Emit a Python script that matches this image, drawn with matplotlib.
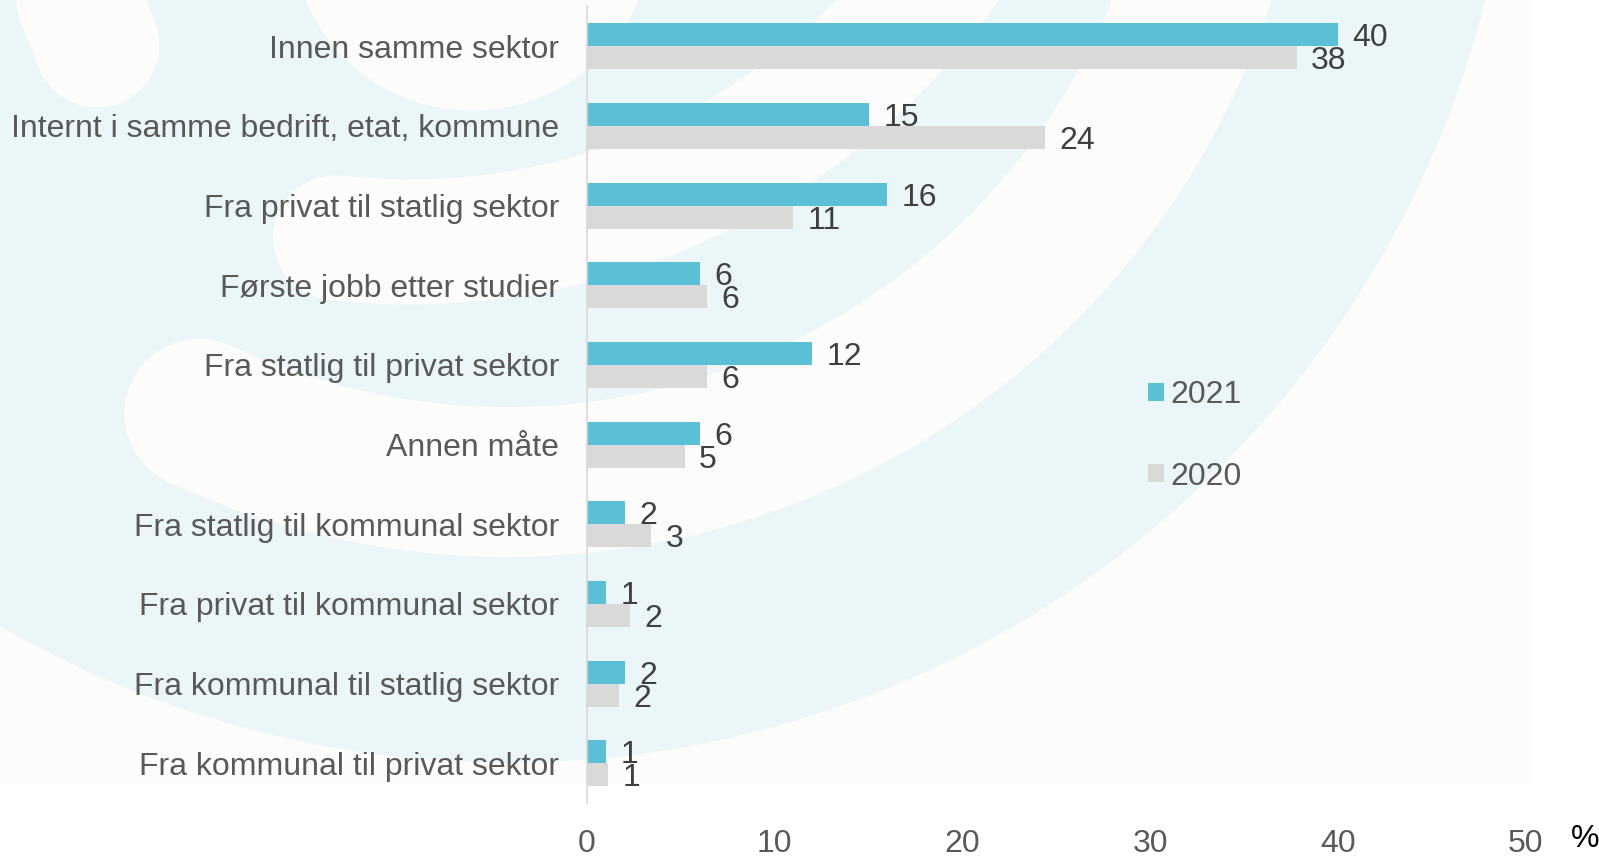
import matplotlib
matplotlib.use('Agg')
import matplotlib.pyplot as plt
from matplotlib.patches import Circle, Arc, Rectangle
import numpy as np

plt.rcParams['font.family'] = ['Liberation Sans', 'DejaVu Sans']

# data
categories = ['Innen samme sektor',
              'Internt i samme bedrift, etat, kommune',
              'Fra privat til statlig sektor',
              'Første jobb etter studier',
              'Fra statlig til privat sektor',
              'Annen måte',
              'Fra statlig til kommunal sektor',
              'Fra privat til kommunal sektor',
              'Fra kommunal til statlig sektor',
              'Fra kommunal til privat sektor']
v2021 = [40, 15, 16, 6, 12, 6, 2, 1, 2, 1]
v2020 = [37.8, 24.4, 11.0, 6.4, 6.4, 5.2, 3.4, 2.3, 1.7, 1.1]
series_names = ['2021', '2020']
x_ticks = [0, 10, 20, 30, 40, 50]

c2021 = '#5BC0D6'
c2020 = '#D9D9D9'
fs = 23

W, H = 1599, 857
fig = plt.figure(figsize=(W / 100, H / 100), dpi=100)

# faint logo in the background
bg = fig.add_axes([0, 1 - 784 / H, 1532 / W, 784 / H])
bg.set_xlim(0, 1532)
bg.set_ylim(784, 0)
bg.set_axis_off()
wm = '#EAF6F8'
paper = '#FCFCFC'
bg.add_patch(Rectangle((0, 0), 1532, 784, color=paper, zorder=0))
bg.add_patch(Circle((507, -246), 1008, color=wm, zorder=1))
bg.add_patch(Circle((472, -70), 180, color=paper, zorder=2))
bg.plot([47, 97], [-80, 45], color=paper, lw=125 * 0.72, solid_capstyle='round', zorder=2)
bg.add_patch(Arc((410, -417), 2 * 659, 2 * 659, theta1=-15, theta2=96.5,
                 color=paper, lw=125 * 0.72, capstyle='round', zorder=2))
bg.add_patch(Arc((507, -246), 2 * 728, 2 * 728, theta1=-20, theta2=115,
                 color=paper, lw=150 * 0.72, capstyle='round', zorder=2))

# main chart
ax = fig.add_axes([587 / W, 1 - 803 / H, (1525.6 - 587) / W, (803 - 6.5) / H])
ax.patch.set_alpha(0)

y = np.arange(len(categories))
h = 0.289
b1 = ax.barh(y - h / 2, v2021, height=h, color=c2021, label=series_names[0])
b2 = ax.barh(y + h / 2, v2020, height=h, color=c2020, label=series_names[1])

for bars in (b1, b2):
    for t in ax.bar_label(bars, fmt='%.0f', padding=10.5, fontsize=fs, color='#404040'):
        t.set_va('center_baseline')

ax.set_xlim(0, 50)
ax.set_ylim(len(categories) - 0.5, -0.5)
ax.set_xticks(x_ticks)
ax.set_yticks(y)
ax.set_yticklabels(categories)
ax.tick_params(axis='y', length=0, pad=20, labelsize=fs, labelcolor='#595959')
ax.tick_params(axis='x', length=0, pad=18.5, labelsize=fs, labelcolor='#595959')

for s in ['top', 'right', 'bottom']:
    ax.spines[s].set_visible(False)
ax.spines['left'].set_color('#D9D9D9')
ax.spines['left'].set_linewidth(1.2)

fig.text(1585 / W, 1 - 839 / H, '%', ha='center', va='center', fontsize=fs, color='black')

fig.legend(handles=[b1, b2], labels=series_names, loc='center left',
           bbox_to_anchor=(1148 / W, 1 - 436 / H), frameon=False,
           handlelength=0.5, handleheight=0.5, handletextpad=0.2,
           labelspacing=1.6, borderpad=0, borderaxespad=0,
           fontsize=fs, labelcolor='#595959')

plt.savefig('out.png', dpi=100)
